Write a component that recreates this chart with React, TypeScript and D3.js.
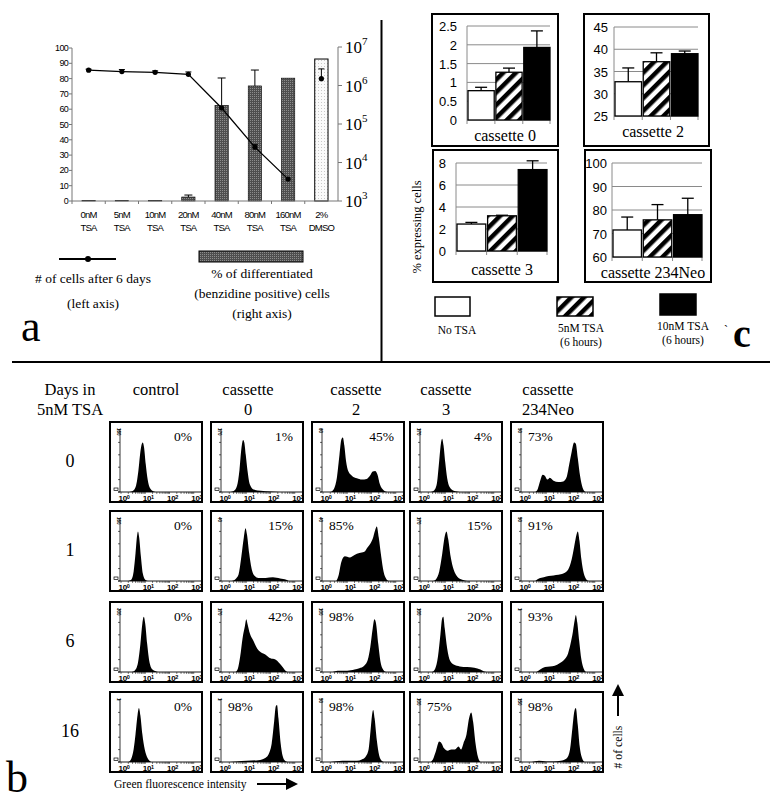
import React from "react";
import * as d3 from "d3";

// ---------------- Panel a data ----------------
const tsaDoses = ["0nM", "5nM", "10nM", "20nM", "40nM", "80nM", "160nM", "2%"];
const tsaAgents = ["TSA", "TSA", "TSA", "TSA", "TSA", "TSA", "TSA", "DMSO"];
const differentiatedPct = [0.3, 0.2, 0.4, 2.6, 62.5, 75.2, 80.3, 92.8];
const differentiatedErr: (number | null)[] = [null, null, null, 3.9, 80.4, 85.6, null, null];
const cellCounts = [2.5e6, 2.3e6, 2.2e6, 1.95e6, 2.6e5, 2.5e4, 3.7e3, 1.5e6];
const cellCountsErr: (number | null)[] = [2.65e6, 2.6e6, 2.4e6, 2.25e6, null, 2.9e4, null, 2.7e6];
const pctTicks = [0, 10, 20, 30, 40, 50, 60, 70, 80, 90, 100];
const logTicks = [1e3, 1e4, 1e5, 1e6, 1e7];

// ---------------- Panel c data ----------------
const cassettes = ["cassette 0", "cassette 2", "cassette 3", "cassette 234Neo"];
const treatments = ["No TSA", "5nM TSA", "10nM TSA"];
const expNoTSA = [0.78, 32.7, 2.45, 71.5];
const expNoTSAErr = [0.87, 35.8, 2.6, 77];
const exp5nM = [1.27, 37.2, 3.2, 75.8];
const exp5nMErr = [1.38, 39.2, 3.25, 82.3];
const exp10nM = [1.93, 39.0, 7.4, 78];
const exp10nMErr = [2.37, 39.6, 8.2, 85];
const cDomains = [[0, 2.5], [25, 45], [0, 8], [60, 100]];
const cTicks = [[0, 0.5, 1, 1.5, 2, 2.5], [25, 30, 35, 40, 45], [0, 2, 4, 6, 8], [60, 70, 80, 90, 100]];

// ---------------- Panel b data ----------------
const dayLabels = ["0", "1", "6", "16"];
const columnHeaders = [["control"], ["cassette", "0"], ["cassette", "2"], ["cassette", "3"], ["cassette", "234Neo"]];
const percentLabels = [
  ["0%", "1%", "45%", "4%", "73%"],
  ["0%", "15%", "85%", "15%", "91%"],
  ["0%", "42%", "98%", "20%", "93%"],
  ["0%", "98%", "98%", "75%", "98%"],
];
const yMaxLabels = [
  ["160", "170", "60", "170", "50"],
  ["160", "40", "40", "170", "50"],
  ["300", "170", "100", "100", "1"],
  ["1", "1", "50", "100", "150"],
];
const decadeTicks = [0, 1, 2, 3];
// histograms: [log10 intensity, relative count]
const histograms: [number, number][][][] = [
  [
    [[0.35, 0], [0.5, 0.02], [0.62, 0.1], [0.72, 0.35], [0.8, 0.65], [0.86, 0.78], [0.9, 0.8], [0.95, 0.72], [1.02, 0.45], [1.1, 0.2], [1.2, 0.06], [1.35, 0.01], [1.5, 0]],
    [[0.35, 0], [0.5, 0.02], [0.62, 0.1], [0.72, 0.35], [0.8, 0.7], [0.87, 0.84], [0.92, 0.8], [0.98, 0.6], [1.05, 0.35], [1.15, 0.12], [1.3, 0.04], [1.6, 0.02], [2.0, 0.01], [2.4, 0]],
    [[0.3, 0], [0.45, 0.05], [0.58, 0.25], [0.68, 0.6], [0.76, 0.85], [0.82, 0.88], [0.88, 0.75], [0.95, 0.5], [1.05, 0.33], [1.2, 0.26], [1.4, 0.22], [1.6, 0.2], [1.8, 0.21], [1.95, 0.27], [2.05, 0.33], [2.15, 0.34], [2.25, 0.28], [2.35, 0.12], [2.5, 0.03], [2.65, 0]],
    [[0.4, 0], [0.55, 0.03], [0.66, 0.15], [0.75, 0.5], [0.82, 0.78], [0.87, 0.86], [0.93, 0.75], [1.0, 0.48], [1.08, 0.22], [1.18, 0.08], [1.35, 0.02], [1.6, 0]],
    [[0.55, 0], [0.65, 0.05], [0.75, 0.18], [0.85, 0.28], [0.95, 0.26], [1.05, 0.2], [1.15, 0.23], [1.3, 0.18], [1.5, 0.16], [1.7, 0.17], [1.85, 0.25], [1.95, 0.45], [2.05, 0.65], [2.15, 0.8], [2.22, 0.78], [2.3, 0.55], [2.4, 0.25], [2.5, 0.07], [2.62, 0]],
  ],
  [
    [[0.3, 0], [0.42, 0.02], [0.52, 0.15], [0.6, 0.45], [0.66, 0.72], [0.7, 0.8], [0.75, 0.7], [0.82, 0.4], [0.9, 0.12], [1.0, 0.02], [1.1, 0]],
    [[0.4, 0], [0.55, 0.03], [0.68, 0.1], [0.8, 0.4], [0.9, 0.7], [0.97, 0.85], [1.03, 0.75], [1.12, 0.45], [1.22, 0.2], [1.35, 0.08], [1.5, 0.05], [1.8, 0.05], [2.1, 0.06], [2.4, 0.04], [2.65, 0.02], [2.75, 0]],
    [[0.55, 0], [0.65, 0.1], [0.75, 0.3], [0.9, 0.4], [1.1, 0.38], [1.3, 0.42], [1.5, 0.45], [1.7, 0.47], [1.85, 0.55], [1.95, 0.6], [2.05, 0.68], [2.15, 0.82], [2.22, 0.88], [2.3, 0.7], [2.4, 0.4], [2.5, 0.15], [2.6, 0.04], [2.7, 0]],
    [[0.5, 0], [0.62, 0.03], [0.75, 0.15], [0.88, 0.45], [0.98, 0.72], [1.05, 0.8], [1.12, 0.68], [1.22, 0.4], [1.35, 0.18], [1.5, 0.07], [1.7, 0.02], [1.9, 0]],
    [[0.55, 0], [0.7, 0.04], [0.9, 0.06], [1.1, 0.08], [1.3, 0.09], [1.5, 0.1], [1.7, 0.12], [1.9, 0.18], [2.05, 0.35], [2.15, 0.55], [2.25, 0.75], [2.3, 0.8], [2.37, 0.65], [2.45, 0.35], [2.55, 0.12], [2.65, 0.03], [2.75, 0]],
  ],
  [
    [[0.45, 0], [0.58, 0.03], [0.7, 0.15], [0.8, 0.45], [0.88, 0.78], [0.94, 0.89], [1.0, 0.78], [1.08, 0.45], [1.18, 0.15], [1.3, 0.04], [1.45, 0.01], [1.6, 0]],
    [[0.55, 0], [0.65, 0.05], [0.75, 0.25], [0.85, 0.55], [0.95, 0.75], [1.0, 0.85], [1.05, 0.78], [1.15, 0.62], [1.3, 0.5], [1.45, 0.38], [1.6, 0.32], [1.8, 0.28], [2.0, 0.22], [2.2, 0.2], [2.35, 0.15], [2.5, 0.08], [2.62, 0.02], [2.7, 0]],
    [[0.4, 0], [0.6, 0.02], [1.0, 0.02], [1.3, 0.04], [1.5, 0.06], [1.7, 0.1], [1.85, 0.2], [1.95, 0.4], [2.05, 0.7], [2.12, 0.85], [2.18, 0.8], [2.28, 0.45], [2.38, 0.15], [2.5, 0.03], [2.6, 0]],
    [[0.45, 0], [0.58, 0.05], [0.7, 0.25], [0.8, 0.6], [0.87, 0.86], [0.92, 0.89], [0.98, 0.7], [1.08, 0.38], [1.2, 0.18], [1.35, 0.12], [1.6, 0.09], [1.9, 0.08], [2.2, 0.07], [2.45, 0.04], [2.6, 0.01], [2.7, 0]],
    [[0.6, 0], [0.75, 0.04], [0.95, 0.08], [1.15, 0.09], [1.35, 0.1], [1.55, 0.14], [1.75, 0.2], [1.9, 0.3], [2.0, 0.45], [2.1, 0.65], [2.18, 0.85], [2.22, 0.92], [2.28, 0.8], [2.36, 0.5], [2.45, 0.2], [2.55, 0.05], [2.65, 0]],
  ],
  [
    [[0.3, 0], [0.42, 0.05], [0.52, 0.2], [0.6, 0.45], [0.68, 0.75], [0.74, 0.87], [0.8, 0.75], [0.88, 0.45], [0.98, 0.2], [1.1, 0.06], [1.25, 0]],
    [[0.3, 0], [0.6, 0.01], [1.0, 0.02], [1.5, 0.03], [1.8, 0.07], [1.95, 0.15], [2.05, 0.3], [2.15, 0.65], [2.22, 0.9], [2.27, 0.92], [2.33, 0.7], [2.42, 0.3], [2.5, 0.1], [2.6, 0.02], [2.7, 0]],
    [[0.3, 0], [0.8, 0.02], [1.1, 0.02], [1.4, 0.02], [1.6, 0.04], [1.75, 0.08], [1.88, 0.2], [1.96, 0.5], [2.03, 0.78], [2.07, 0.84], [2.13, 0.7], [2.22, 0.35], [2.32, 0.1], [2.42, 0.02], [2.5, 0]],
    [[0.4, 0], [0.5, 0.05], [0.62, 0.18], [0.75, 0.33], [0.85, 0.3], [0.95, 0.22], [1.1, 0.18], [1.25, 0.2], [1.4, 0.2], [1.55, 0.25], [1.65, 0.2], [1.75, 0.3], [1.88, 0.45], [1.98, 0.7], [2.07, 0.8], [2.15, 0.65], [2.25, 0.3], [2.35, 0.08], [2.45, 0]],
    [[0.4, 0], [0.7, 0.02], [1.0, 0.01], [1.3, 0.01], [1.6, 0.02], [1.85, 0.06], [1.98, 0.2], [2.08, 0.55], [2.16, 0.82], [2.22, 0.87], [2.3, 0.6], [2.38, 0.25], [2.48, 0.06], [2.58, 0]],
  ],
];

const SERIF = "'Liberation Serif', 'Times New Roman', serif";
const SANS = "'Liberation Sans', Arial, sans-serif";
const NARROW = "'Liberation Sans Narrow', 'Arial Narrow', 'Liberation Sans', Arial, sans-serif";

function PanelA() {
  const left = 72, right = 338, bottom = 201;
  const xA = d3.scaleBand<string>().domain(tsaDoses).range([left, right]);
  const yPct = d3.scaleLinear().domain([0, 100]).range([bottom, 48]);
  const yCells = d3.scaleLog().domain([1e3, 1e7]).range([bottom, 47]);
  const bw = xA.bandwidth();
  const barW = bw * 0.4;
  const cx = (i: number) => (xA(tsaDoses[i]) as number) + bw / 2;
  const linePts: [number, number][] = cellCounts.slice(0, 7).map((v, i) => [cx(i), yCells(v)]);
  const lineGen = d3.line();
  return (
    <g>
      {differentiatedPct.map((v, i) => {
        const isDmso = i === tsaDoses.length - 1;
        return (
          <rect key={"b" + i} x={cx(i) - barW / 2} y={yPct(v)} width={barW} height={yPct(0) - yPct(v)}
            fill={isDmso ? "url(#dots)" : "url(#stipple)"} stroke="#000" strokeWidth={isDmso ? 1 : 0.6} />
        );
      })}
      {differentiatedErr.map((e, i) =>
        e == null ? null : (
          <g key={"be" + i} stroke="#000" strokeWidth={1}>
            <line x1={cx(i)} x2={cx(i)} y1={yPct(differentiatedPct[i])} y2={yPct(e)} />
            <line x1={cx(i) - 4} x2={cx(i) + 4} y1={yPct(e)} y2={yPct(e)} />
          </g>
        )
      )}
      <path d={lineGen(linePts) || ""} fill="none" stroke="#000" strokeWidth={1.3} />
      {cellCountsErr.map((e, i) =>
        e == null ? null : (
          <g key={"le" + i} stroke="#000" strokeWidth={1}>
            <line x1={cx(i)} x2={cx(i)} y1={yCells(cellCounts[i])} y2={yCells(e)} />
            <line x1={cx(i) - 3} x2={cx(i) + 3} y1={yCells(e)} y2={yCells(e)} />
          </g>
        )
      )}
      {cellCounts.map((v, i) => (
        <circle key={"p" + i} cx={cx(i)} cy={yCells(v)} r={2.6} fill="#000" />
      ))}
      <line x1={left} x2={left} y1={yPct(0)} y2={yPct(100)} stroke="#777" strokeWidth={1} />
      {pctTicks.map((t) => (
        <g key={"lt" + t}>
          <line x1={left - 3} x2={left} y1={yPct(t)} y2={yPct(t)} stroke="#777" />
          <text x={left - 4} y={yPct(t) + 3} textAnchor="end" fontFamily={NARROW} fontSize={9} letterSpacing={-0.7}>{t}</text>
        </g>
      ))}
      <line x1={left} x2={right} y1={bottom} y2={bottom} stroke="#777" />
      {tsaDoses.map((d, i) => (
        <g key={"xt" + i}>
          <line x1={xA(d)} x2={xA(d)} y1={bottom} y2={bottom + 3} stroke="#777" />
          <text x={cx(i)} y={217.5} textAnchor="middle" fontFamily={NARROW} fontSize={9.5} letterSpacing={-0.8}>{d}</text>
          <text x={cx(i)} y={230.5} textAnchor="middle" fontFamily={NARROW} fontSize={9.5} letterSpacing={-0.8}>{tsaAgents[i]}</text>
        </g>
      ))}
      <line x1={right} x2={right} y1={yCells(1e3)} y2={yCells(1e7)} stroke="#777" />
      {logTicks.map((t) => (
        <g key={"rt" + t}>
          <line x1={right} x2={right + 4} y1={yCells(t)} y2={yCells(t)} stroke="#777" />
          <text x={right + 7} y={yCells(t) + 6} fontFamily={SERIF} fontSize={17}>
            10<tspan fontSize={11} dy={-8}>{Math.round(Math.log10(t))}</tspan>
          </text>
        </g>
      ))}
      <line x1={59} x2={116} y1={259} y2={259} stroke="#000" strokeWidth={2} />
      <circle cx={88} cy={259} r={3} fill="#000" />
      <text x={93} y={283} textAnchor="middle" fontFamily={SERIF} fontSize={13.5}># of cells after 6 days</text>
      <text x={93} y={308} textAnchor="middle" fontFamily={SERIF} fontSize={13.5}>(left axis)</text>
      <rect x={199} y={251} width={104} height={11} fill="url(#stipple)" stroke="#000" strokeWidth={1} />
      <text x={262} y={278} textAnchor="middle" fontFamily={SERIF} fontSize={13.5}>% of differentiated</text>
      <text x={262} y={298} textAnchor="middle" fontFamily={SERIF} fontSize={13.5}>(benzidine positive) cells</text>
      <text x={262} y={318} textAnchor="middle" fontFamily={SERIF} fontSize={13.5}>(right axis)</text>
      <text x={21} y={341} fontFamily={SERIF} fontSize={44}>a</text>
    </g>
  );
}

const cLayout = [
  { bx: 432, by: 14, bw: 126, bh: 132, l: 467, r: 550, t: 26, b: 120, lx: 457, ly: 141, lcx: 505 },
  { bx: 584, by: 14, bw: 125, bh: 132, l: 614, r: 698, t: 27, b: 116, lx: 608, ly: 137, lcx: 653 },
  { bx: 433, by: 150, bw: 125, bh: 132, l: 456, r: 547, t: 163, b: 251, lx: 446, ly: 275, lcx: 502 },
  { bx: 585, by: 150, bw: 126, bh: 132, l: 612, r: 702, t: 163, b: 257, lx: 607, ly: 278, lcx: 653 },
];
const treatFills = ["#fff", "url(#hatch)", "#000"];

function PanelC() {
  const series = [expNoTSA, exp5nM, exp10nM];
  const errs = [expNoTSAErr, exp5nMErr, exp10nMErr];
  return (
    <g>
      {cassettes.map((name, ci) => {
        const L = cLayout[ci];
        const y = d3.scaleLinear().domain(cDomains[ci]).range([L.b, L.t]);
        const x = d3.scaleBand<string>().domain(treatments).range([L.l + 1, L.r]).paddingInner(0.06);
        return (
          <g key={name}>
            <rect x={L.bx} y={L.by} width={L.bw} height={L.bh} fill="#fff" stroke="#000" strokeWidth={2} />
            {cTicks[ci].map((t) => (
              <g key={t}>
                <line x1={L.l} x2={L.r} y1={y(t)} y2={y(t)} stroke="#8a8a8a" strokeWidth={1} />
                <text x={L.lx} y={y(t) + 5} textAnchor="end" fontFamily={SANS} fontSize={13}>{t}</text>
              </g>
            ))}
            <line x1={L.l} x2={L.l} y1={L.t} y2={L.b} stroke="#8a8a8a" />
            {[0, 1, 2, 3].map((k) => {
              const xx = k < 3 ? (x(treatments[k]) as number) - 1 : L.r;
              return <line key={k} x1={xx} x2={xx} y1={L.b} y2={L.b + 4} stroke="#8a8a8a" />;
            })}
            {treatments.map((tr, si) => {
              const v = series[si][ci];
              const e = errs[si][ci];
              const x0 = x(tr) as number;
              const w = x.bandwidth();
              const mid = x0 + w / 2;
              return (
                <g key={tr}>
                  <line x1={mid} x2={mid} y1={y(v)} y2={y(e)} stroke="#000" strokeWidth={1.3} />
                  <line x1={mid - 6} x2={mid + 6} y1={y(e)} y2={y(e)} stroke="#000" strokeWidth={1.3} />
                  <rect x={x0} y={y(v)} width={w} height={L.b - y(v)} fill={treatFills[si]} stroke="#000" strokeWidth={1.3} />
                </g>
              );
            })}
            <text x={L.lcx} y={L.ly} textAnchor="middle" fontFamily={SERIF} fontSize={16}>{name}</text>
          </g>
        );
      })}
      <text transform="translate(421,227) rotate(-90)" textAnchor="middle" fontFamily={SERIF} fontSize={12.5}>% expressing cells</text>
      <rect x={435} y={297} width={35} height={19} fill="#fff" stroke="#000" strokeWidth={1.5} />
      <rect x={557} y={297} width={36} height={19} fill="url(#hatch)" stroke="#000" strokeWidth={1.5} />
      <rect x={660} y={294} width={36} height={21} fill="#000" stroke="#000" strokeWidth={1.5} />
      <text x={457} y={334} textAnchor="middle" fontFamily={SERIF} fontSize={11.5}>{treatments[0]}</text>
      <text x={581} y={332} textAnchor="middle" fontFamily={SERIF} fontSize={11.5}>{treatments[1]}</text>
      <text x={581} y={346} textAnchor="middle" fontFamily={SERIF} fontSize={11.5}>(6 hours)</text>
      <text x={683} y={330} textAnchor="middle" fontFamily={SERIF} fontSize={11.5}>{treatments[2]}</text>
      <text x={683} y={344} textAnchor="middle" fontFamily={SERIF} fontSize={11.5}>(6 hours)</text>
      <text x={724} y={334} fontFamily={SERIF} fontSize={12}>`</text>
      <text x={733} y={347} fontFamily={SERIF} fontSize={40} fontWeight="bold">c</text>
    </g>
  );
}

const colX = [110, 211, 312, 410, 511];
const rowY = [422, 511, 602, 692];
const colCenters = [156, 248, 356, 446, 548];

function PanelB() {
  const bw = 92, bh = 80;
  return (
    <g>
      <text x={70} y={395} textAnchor="middle" fontFamily={SERIF} fontSize={16.5}>Days in</text>
      <text x={70} y={415} textAnchor="middle" fontFamily={SERIF} fontSize={16.5}>5nM TSA</text>
      {columnHeaders.map((lines, c) =>
        lines.map((ln, k) => (
          <text key={c + "-" + k} x={colCenters[c]} y={395 + k * 20} textAnchor="middle" fontFamily={SERIF} fontSize={16.5}>{ln}</text>
        ))
      )}
      {dayLabels.map((d, r) => (
        <text key={d} x={70} y={rowY[r] + 45} textAnchor="middle" fontFamily={SERIF} fontSize={18}>{d}</text>
      ))}
      {histograms.map((row, r) =>
        row.map((hist, c) => {
          const x0 = colX[c], y0 = rowY[r];
          const xs = d3.scaleLinear().domain([0, 3.3]).range([x0 + 11, x0 + 91]);
          const ys = d3.scaleLinear().domain([0, 1]).range([y0 + 70, y0 + 8]);
          const area = d3.area<[number, number]>()
            .x((d) => xs(d[0]))
            .y0(ys(0))
            .y1((d) => ys(d[1]))
            .curve(d3.curveMonotoneX);
          const minor: number[] = [];
          for (let dec = 0; dec < 4; dec++) for (let m = 1; m < 10; m++) {
            const v = dec + Math.log10(m);
            if (v <= 3.3) minor.push(v);
          }
          const pct = percentLabels[r][c];
          const leftPct = (c === 4) || (r === 1 && c === 2) || (r === 2 && c === 2) || (r === 3 && c >= 1);
          const yTicks = d3.range(0, 1.01, 0.2);
          return (
            <g key={r + "-" + c}>
              <rect x={x0} y={y0} width={bw} height={bh} fill="#fff" stroke="#000" strokeWidth={2} />
              <path d={area(hist) || ""} fill="#000" />
              <line x1={x0 + 10} x2={x0 + 10} y1={y0 + 7} y2={y0 + 70} stroke="#000" strokeWidth={0.8} />
              {yTicks.map((t) => (
                <line key={t} x1={x0 + 8} x2={x0 + 10} y1={ys(t)} y2={ys(t)} stroke="#000" strokeWidth={0.6} />
              ))}
              <text transform={`translate(${x0 + 7},${y0 + 6}) rotate(90)`} fontFamily={SANS} fontSize={4.5} fontWeight="bold">{yMaxLabels[r][c]}</text>
              <rect x={x0 + 4} y={y0 + 66} width={4} height={2.5} fill="#fff" stroke="#000" strokeWidth={0.7} />
              <line x1={x0 + 8} x2={x0 + 92} y1={y0 + 70} y2={y0 + 70} stroke="#000" strokeWidth={0.9} />
              {minor.map((v, k) => (
                <line key={k} x1={xs(v)} x2={xs(v)} y1={y0 + 70} y2={y0 + 72} stroke="#000" strokeWidth={0.5} />
              ))}
              {decadeTicks.map((t) => (
                <text key={t} x={xs(t) + 3} y={y0 + 78.5} textAnchor="middle" fontFamily={NARROW} fontSize={8} fontWeight="bold" letterSpacing={-0.4}>
                  10<tspan fontSize={5.5} dy={-2}>{t}</tspan>
                </text>
              ))}
              <text x={leftPct ? x0 + 17 : x0 + 82} y={y0 + 19} textAnchor={leftPct ? "start" : "end"} fontFamily={SERIF} fontSize={13.5}>{pct}</text>
            </g>
          );
        })
      )}
      <text x={114} y={788} fontFamily={SERIF} fontSize={11.6}>Green fluorescence intensity</text>
      <line x1={257} x2={292} y1={784} y2={784} stroke="#000" strokeWidth={2} />
      <path d="M286,778 L298,784 L286,790 Z" fill="#000" />
      <line x1={618} x2={618} y1={716} y2={692} stroke="#000" strokeWidth={2} />
      <path d="M612,696 L618,684 L624,696 Z" fill="#000" />
      <text transform="translate(622,747) rotate(-90)" textAnchor="middle" fontFamily={SERIF} fontSize={11.7}># of cells</text>
      <text x={6} y={792} fontFamily={SERIF} fontSize={44}>b</text>
    </g>
  );
}

export default function App() {
  return (
    <svg width={782} height={808} viewBox="0 0 782 808" style={{ position: "absolute", left: 0, top: 0, background: "#fff" }}>
      <defs>
        <pattern id="stipple" width={2} height={2} patternUnits="userSpaceOnUse">
          <rect width={2} height={2} fill="#4e4e4e" />
          <rect width={1} height={1} fill="#8c8c8c" />
        </pattern>
        <pattern id="dots" width={3} height={3} patternUnits="userSpaceOnUse">
          <rect width={3} height={3} fill="#fafafa" />
          <rect width={1} height={1} fill="#c8c8c8" />
        </pattern>
        <pattern id="hatch" width={9} height={9} patternUnits="userSpaceOnUse" patternTransform="rotate(45)">
          <rect width={9} height={9} fill="#fff" />
          <rect width={4.5} height={9} fill="#000" />
        </pattern>
      </defs>
      <rect width={782} height={808} fill="#fff" />
      <line x1={381.5} x2={381.5} y1={20} y2={362} stroke="#000" strokeWidth={2} />
      <line x1={12} x2={770} y1={362} y2={362} stroke="#000" strokeWidth={2} />
      <PanelA />
      <PanelC />
      <PanelB />
    </svg>
  );
}
